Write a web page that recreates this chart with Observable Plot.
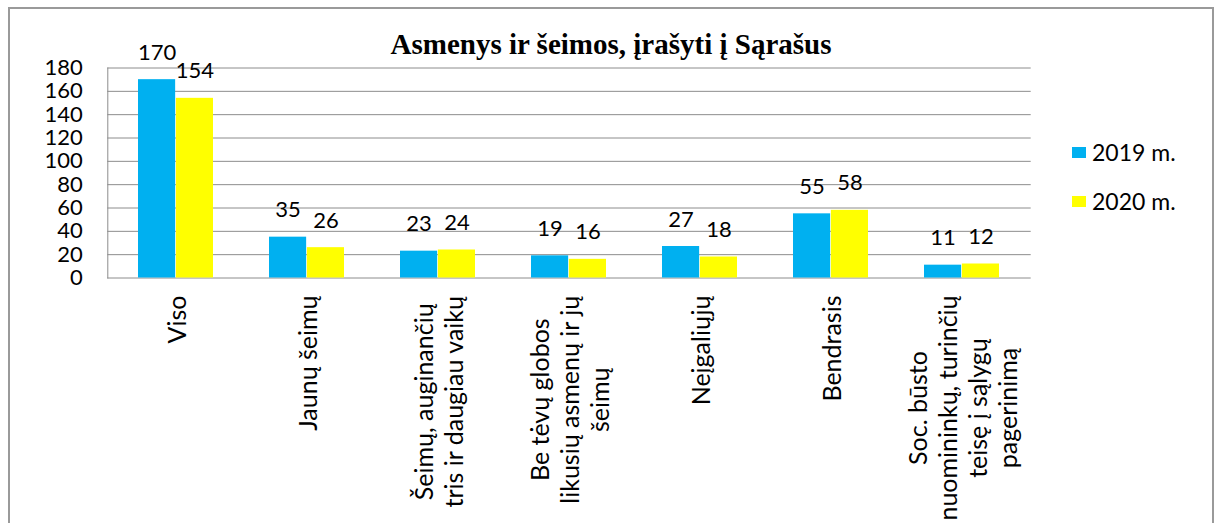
<!DOCTYPE html>
<html>
<head>
<meta charset="utf-8">
<script src="https://cdn.jsdelivr.net/npm/d3@7"></script>
<script src="https://cdn.jsdelivr.net/npm/@observablehq/plot@0.6"></script>
<style>
  html, body { margin: 0; padding: 0; background: #fff; overflow: hidden; }
  #wrap { position: relative; width: 1224px; height: 523px; overflow: hidden; }
  #border { position: absolute; left: 8px; top: 7px; width: 1206px; height: 540px; border: 2px solid #9a9a9a; box-sizing: border-box; }
  #title { position: absolute; left: 0; width: 1222px; top: 30px; text-align: center;
           font-family: "Liberation Serif", "Times New Roman", serif; font-weight: bold; font-size: 29px; line-height: 29px; color: #000; }
  #chart { position: absolute; left: 0; top: 0; }
  .leg { position: absolute; left: 1072px; font-family: Lato, sans-serif; font-size: 23px; color: #000; display: flex; align-items: center; }
  .leg span.sw { display: inline-block; width: 14px; height: 11px; margin-right: 6px; }
</style>
</head>
<body>
<div id="wrap">
  <div id="chart"></div>
  <div id="border"></div>
  <div id="title">Asmenys ir šeimos, įrašyti į Sąrašus</div>
</div>
<script>
// ---- data ----
const categories = [
  "Viso",
  "Jaunų šeimų",
  "Šeimų, auginančių tris ir daugiau vaikų",
  "Be tėvų globos likusių asmenų ir jų šeimų",
  "Neįgaliųjų",
  "Bendrasis",
  "Soc. būsto nuomininkų, turinčių teisę į sąlygų pagerinimą"
];
const categoryLines = [
  ["Viso"],
  ["Jaunų šeimų"],
  ["Šeimų, auginančių", "tris ir daugiau vaikų"],
  ["Be tėvų globos", "likusių asmenų ir jų", "šeimų"],
  ["Neįgaliųjų"],
  ["Bendrasis"],
  ["Soc. būsto", "nuomininkų, turinčių", "teisę į sąlygų", "pagerinimą"]
];
const values2019 = [170, 35, 23, 19, 27, 55, 11];
const values2020 = [154, 26, 24, 16, 18, 58, 12];
const seriesNames = ["2019 m.", "2020 m."];
const seriesColors = ["#00B0F0", "#FFFF00"];
const yTicks = [0, 20, 40, 60, 80, 100, 120, 140, 160, 180];

// ---- layout ----
const W = 1224, H = 523;
const mL = 107.3, mR = W - 1030.7, mT = 67.5, mB = H - 277.5;
const padIn = 0.426, padOut = 0.213;
const n = categories.length;
const step = (W - mL - mR) / (n - padIn + 2 * padOut);
const bw = step * (1 - padIn);
const labelFont = 25, tickFont = 22, valueFont = 22;
const fontFamily = "Lato, sans-serif";

const rows2019 = categories.map((c, i) => ({cat: c, value: values2019[i]}));
const rows2020 = categories.map((c, i) => ({cat: c, value: values2020[i]}));

const ctx = document.createElement("canvas").getContext("2d");
ctx.font = `${labelFont}px Lato`;

const labelMarks = categories.map((c, i) => {
  const lines = categoryLines[i];
  const maxW = d3.max(lines, l => ctx.measureText(l).width);
  return Plot.text([c], {
    x: d => d,
    text: () => lines.join("\n"),
    rotate: -90,
    frameAnchor: "bottom",
    textAnchor: "middle",
    lineAnchor: "middle",
    lineHeight: 30 / labelFont,
    fontSize: labelFont,
    fill: "#000",
    dy: 17.5 + maxW / 2
  });
});

const chart = Plot.plot({
  width: W,
  height: H,
  marginLeft: mL,
  marginRight: mR,
  marginTop: mT,
  marginBottom: mB,
  style: {fontFamily, background: "transparent", overflow: "visible"},
  x: {domain: categories, type: "band", paddingInner: padIn, paddingOuter: padOut, axis: null},
  y: {domain: [0, 180], axis: null},
  marks: [
    Plot.ruleY(yTicks, {stroke: "#8c8c8c", strokeWidth: 1}),
    Plot.frame({anchor: "left", stroke: "#8c8c8c"}),
    Plot.barY(rows2019, {x: "cat", y: "value", fill: seriesColors[0], insetRight: bw / 2}),
    Plot.barY(rows2020, {x: "cat", y: "value", fill: seriesColors[1], insetLeft: bw / 2}),
    Plot.text(rows2019, {x: "cat", y: "value", text: d => String(d.value), dx: -bw / 4, dy: -27, lineAnchor: "middle", fontSize: valueFont, fill: "#000"}),
    Plot.text(rows2020, {x: "cat", y: "value", text: d => String(d.value), dx: bw / 4, dy: -27, lineAnchor: "middle", fontSize: valueFont, fill: "#000"}),
    Plot.axisY(yTicks, {tickSize: 0, tickPadding: 25, fontSize: tickFont, fill: "#000", label: null}),
    ...labelMarks
  ]
});
document.getElementById("chart").appendChild(chart);

// legend
const wrap = document.getElementById("wrap");
const legendCenters = [152, 201];
seriesNames.forEach((name, i) => {
  const d = document.createElement("div");
  d.className = "leg";
  d.style.top = (legendCenters[i] - 15) + "px";
  d.style.height = "30px";
  d.innerHTML = `<span class="sw" style="background:${seriesColors[i]}"></span><span>${name}</span>`;
  wrap.appendChild(d);
});
</script>
</body>
</html>
